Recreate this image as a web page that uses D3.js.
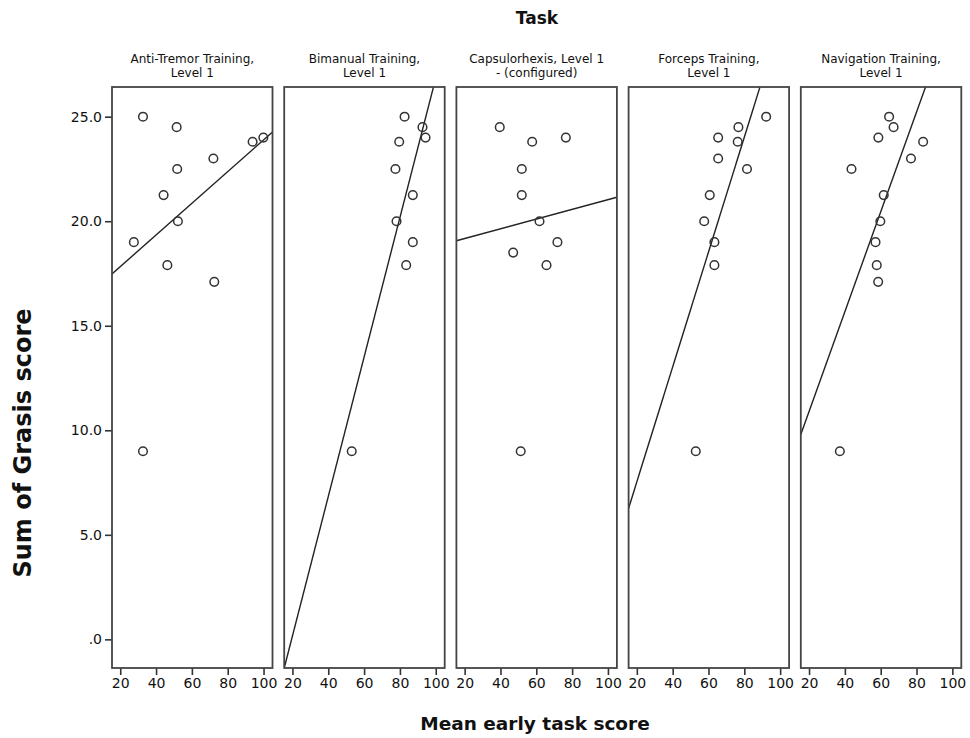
<!DOCTYPE html>
<html>
<head>
<meta charset="utf-8">
<script src="https://cdn.jsdelivr.net/npm/d3@7"></script>
<style>
  body { margin: 0; background: #fff; }
  text { font-family: "DejaVu Sans", sans-serif; fill: #111; }
</style>
</head>
<body>
<div id="chart"></div>
<script>
// facets (one panel per task)
const tasks = [
  ['Anti-Tremor Training,', 'Level 1'],
  ['Bimanual Training,', 'Level 1'],
  ['Capsulorhexis, Level 1', '- (configured)'],
  ['Forceps Training,', 'Level 1'],
  ['Navigation Training,', 'Level 1']
];

// mean early task score, per task
const taskScores = [
  [32.7, 51.5, 93.9, 99.9, 72.0, 51.8, 44.2, 52.2, 27.6, 46.3, 72.5, 32.7],
  [82.6, 92.6, 94.3, 79.6, 77.5, 87.2, 78.1, 87.2, 83.5, 53.1],
  [39.6, 57.7, 76.5, 51.9, 51.9, 61.8, 71.8, 47.1, 65.7, 51.3],
  [92.2, 76.7, 65.4, 76.3, 65.4, 81.5, 60.7, 57.6, 63.3, 63.3, 52.9],
  [64.7, 67.2, 58.7, 83.7, 76.9, 43.7, 61.7, 59.8, 57.1, 57.8, 58.6, 37.2]
];

// sum of Grasis score, per task
const grasisScores = [
  [25.0, 24.5, 23.8, 24.0, 23.0, 22.5, 21.25, 20.0, 19.0, 17.9, 17.1, 9.0],
  [25.0, 24.5, 24.0, 23.8, 22.5, 21.25, 20.0, 19.0, 17.9, 9.0],
  [24.5, 23.8, 24.0, 22.5, 21.25, 20.0, 19.0, 18.5, 17.9, 9.0],
  [25.0, 24.5, 24.0, 23.8, 23.0, 22.5, 21.25, 20.0, 19.0, 17.9, 9.0],
  [25.0, 24.5, 24.0, 23.8, 23.0, 22.5, 21.25, 20.0, 19.0, 17.9, 17.1, 9.0]
];

const xTicks = [20, 40, 60, 80, 100];
const yTicks = [0, 5, 10, 15, 20, 25];
const yTickLabels = ['.0', '5.0', '10.0', '15.0', '20.0', '25.0'];

const width = 970, height = 738;
const margin = { top: 87, left: 112, bottom: 70 };
const panelW = 160.5, panelGap = 11.7;
const panelH = height - margin.top - margin.bottom;

const svg = d3.select('#chart').append('svg')
  .attr('width', width)
  .attr('height', height);

const x = d3.scaleLinear().domain([15.4, 105]).range([0, panelW]);
const y = d3.scaleLinear().domain([-1.37, 26.42]).range([panelH, 0]);

// least squares fit line
function fit(xs, ys) {
  const mx = d3.mean(xs), my = d3.mean(ys);
  let sxy = 0, sxx = 0;
  xs.forEach((v, i) => { sxy += (v - mx) * (ys[i] - my); sxx += (v - mx) * (v - mx); });
  const b = sxy / sxx;
  return v => my + b * (v - mx);
}

function styleAxis(a) {
  a.select('.domain').remove();
  a.selectAll('line').attr('stroke', '#333').attr('stroke-width', 1.6);
  a.selectAll('text')
    .style('font-size', '14px')
    .style('font-family', '"DejaVu Sans", sans-serif')
    .attr('fill', '#111');
}

tasks.forEach((title, i) => {
  const g = svg.append('g')
    .attr('transform', `translate(${margin.left + i * (panelW + panelGap)},${margin.top})`);

  g.append('clipPath').attr('id', 'clip' + i)
    .append('rect').attr('width', panelW).attr('height', panelH);

  // panel title, two lines
  g.append('text')
    .attr('x', panelW / 2).attr('y', -24)
    .attr('text-anchor', 'middle')
    .style('font-size', '12px')
    .text(title[0]);
  g.append('text')
    .attr('x', panelW / 2).attr('y', -10)
    .attr('text-anchor', 'middle')
    .style('font-size', '12px')
    .text(title[1]);

  const xa = g.append('g')
    .attr('transform', `translate(0,${panelH})`)
    .call(d3.axisBottom(x).tickValues(xTicks).tickSize(7).tickPadding(3).tickFormat(d3.format('d')));
  styleAxis(xa);

  if (i === 0) {
    const ya = g.append('g')
      .call(d3.axisLeft(y).tickValues(yTicks).tickSize(7).tickPadding(3)
        .tickFormat((d, k) => yTickLabels[k]));
    styleAxis(ya);
  }

  const f = fit(taskScores[i], grasisScores[i]);
  const dom = x.domain();
  g.append('line')
    .attr('clip-path', `url(#clip${i})`)
    .attr('x1', x(dom[0])).attr('y1', y(f(dom[0])))
    .attr('x2', x(dom[1])).attr('y2', y(f(dom[1])))
    .attr('stroke', '#222')
    .attr('stroke-width', 1.4);

  g.selectAll('circle')
    .data(taskScores[i].map((v, k) => [v, grasisScores[i][k]]))
    .enter().append('circle')
    .attr('cx', d => x(d[0]))
    .attr('cy', d => y(d[1]))
    .attr('r', 4.3)
    .attr('fill', 'none')
    .attr('stroke', '#333')
    .attr('stroke-width', 1.5);

  g.append('rect')
    .attr('width', panelW).attr('height', panelH)
    .attr('fill', 'none')
    .attr('stroke', '#444')
    .attr('stroke-width', 1.8);
});

svg.append('text')
  .attr('x', 537).attr('y', 24)
  .attr('text-anchor', 'middle')
  .style('font-size', '17px').style('font-weight', 'bold')
  .text('Task');

svg.append('text')
  .attr('x', 535).attr('y', 730)
  .attr('text-anchor', 'middle')
  .style('font-size', '18.5px').style('font-weight', 'bold')
  .text('Mean early task score');

svg.append('text')
  .attr('transform', 'translate(31,443) rotate(-90)')
  .attr('text-anchor', 'middle')
  .style('font-size', '24px').style('font-weight', 'bold')
  .text('Sum of Grasis score');
</script>
</body>
</html>
